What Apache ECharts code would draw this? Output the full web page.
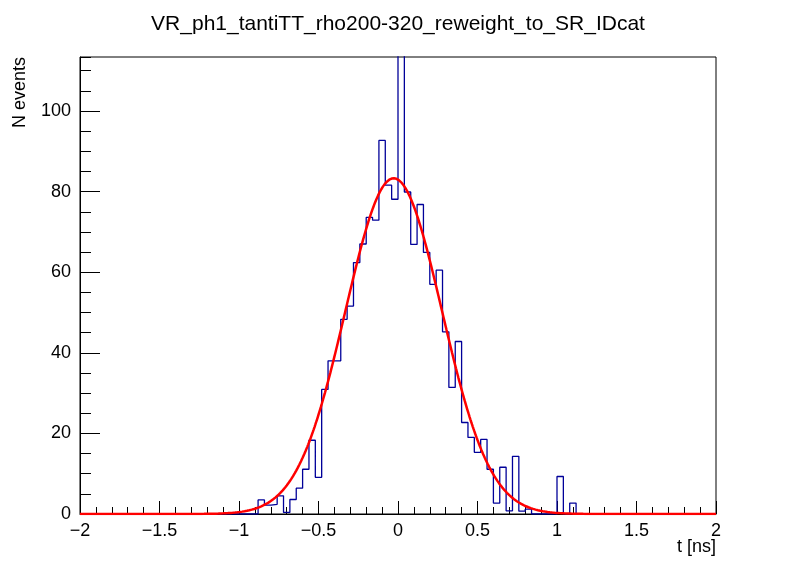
<!DOCTYPE html>
<html>
<head>
<meta charset="utf-8">
<script src="https://cdn.jsdelivr.net/npm/echarts@6/dist/echarts.min.js"></script>
<style>html,body{margin:0;padding:0;background:#fff}#c{width:796px;height:572px}</style>
</head>
<body>
<div id="c"></div>
<script>
// Histogram: 100 bins from -2 to 2
var binLow = -2, binHigh = 2, nBins = 100;
// non-zero bins: bin index -> content
var binIndex = [28,29,30,31,32,33,34,35,36,37,38,39,40,41,42,43,44,45,46,47,48,49,50,51,52,53,54,55,56,57,58,59,60,61,62,63,64,65,66,67,68,69,70,75,77];
var binValue = [3.5,2.2,2.4,4.5,0.4,3.6,6.4,11.1,18.3,9.1,30.9,38.0,38.0,48.3,51.6,62.4,67.0,73.6,72.9,92.7,81.6,78.1,122,79.9,66.9,76.8,64.9,57.0,60.5,45.2,31.4,42.8,22.7,19.0,15.3,18.5,11.1,2.7,11.6,0.8,14.3,0.7,1.2,9.3,2.7];
// Gaussian fit parameters
var fitConst = 83.3, fitMean = -0.027, fitSigma = 0.303;
var xTicks = [-2,-1.5,-1,-0.5,0,0.5,1,1.5,2];
var yTicks = [0,20,40,60,80,100];
var yMax = 113.4;
var titleText = 'VR_ph1_tantiTT_rho200-320_reweight_to_SR_IDcat';

var contents = [];
for (var i = 0; i < nBins; i++) contents.push(0);
binIndex.forEach(function(b, k){ contents[b] = binValue[k]; });
var w = (binHigh - binLow) / nBins;
var histPts = [[binLow, 0]];
for (var i = 0; i < nBins; i++) {
  var x0 = binLow + i * w, x1 = x0 + w;
  histPts.push([x0, contents[i]]);
  histPts.push([x1, contents[i]]);
}
histPts.push([binHigh, 0]);

var fitPts = [];
for (var j = 0; j <= 800; j++) {
  var x = binLow + (binHigh - binLow) * j / 800;
  fitPts.push([x, fitConst * Math.exp(-0.5 * Math.pow((x - fitMean) / fitSigma, 2))]);
}

var font = 'Liberation Sans, Arial, Helvetica, sans-serif';
var chart = echarts.init(document.getElementById('c'), null, {renderer: 'canvas'});
chart.setOption({
  animation: false,
  backgroundColor: '#fff',
  title: {
    text: titleText, left: 'center', top: 9,
    textStyle: {fontFamily: font, fontSize: 21, fontWeight: 'normal', color: '#000'}
  },
  grid: {left: 80, right: 80, top: 57, bottom: 58, show: true, borderColor: '#000', borderWidth: 1, backgroundColor: 'transparent'},
  xAxis: {
    type: 'value', min: xTicks[0], max: xTicks[xTicks.length-1], interval: 0.5,
    axisLine: {show: true, onZero: false, lineStyle: {color: '#000', width: 1}},
    axisTick: {show: true, inside: true, length: 13, lineStyle: {color: '#000'}},
    minorTick: {show: true, splitNumber: 5, length: 7, lineStyle: {color: '#000'}},
    splitLine: {show: false},
    axisLabel: {color: '#000', fontFamily: font, fontSize: 18, margin: 8,
      formatter: function(v){ return String(v).replace('-', '\u2212'); }}
  },
  yAxis: [{
    type: 'value', min: 0, max: yMax, interval: 20,
    axisLine: {show: true, onZero: false, lineStyle: {color: '#000', width: 1}},
    axisTick: {show: true, inside: true, length: 20, lineStyle: {color: '#000'}},
    splitLine: {show: false},
    axisLabel: {color: '#000', fontFamily: font, fontSize: 18, margin: 9, showMaxLabel: false,
      formatter: function(v){ return yTicks.indexOf(v) >= 0 ? String(v) : ''; }}
  }, {
    type: 'value', min: 0, max: yMax, interval: 5, position: 'left', offset: 0,
    axisLine: {show: false, onZero: false},
    axisTick: {show: true, inside: true, length: 11, lineStyle: {color: '#000'}},
    splitLine: {show: false},
    axisLabel: {show: false}
  }],
  graphic: [
    {type: 'text', x: 20, y: 57, rotation: Math.PI/2,
     style: {text: 'N events', fill: '#000', font: '18px ' + font, textAlign: 'right', textVerticalAlign: 'middle'}},
    {type: 'text', x: 716, y: 547,
     style: {text: 't [ns]', fill: '#000', font: '18px ' + font, textAlign: 'right', textVerticalAlign: 'middle'}}
  ],
  series: [{
    type: 'line', data: histPts, symbol: 'none', clip: true, yAxisIndex: 0,
    lineStyle: {color: '#000099', width: 1.3}, z: 2
  }, {
    type: 'line', data: fitPts, symbol: 'none', clip: true, yAxisIndex: 0,
    lineStyle: {color: '#ff0000', width: 2.5}, z: 3
  }]
});
</script>
</body>
</html>
